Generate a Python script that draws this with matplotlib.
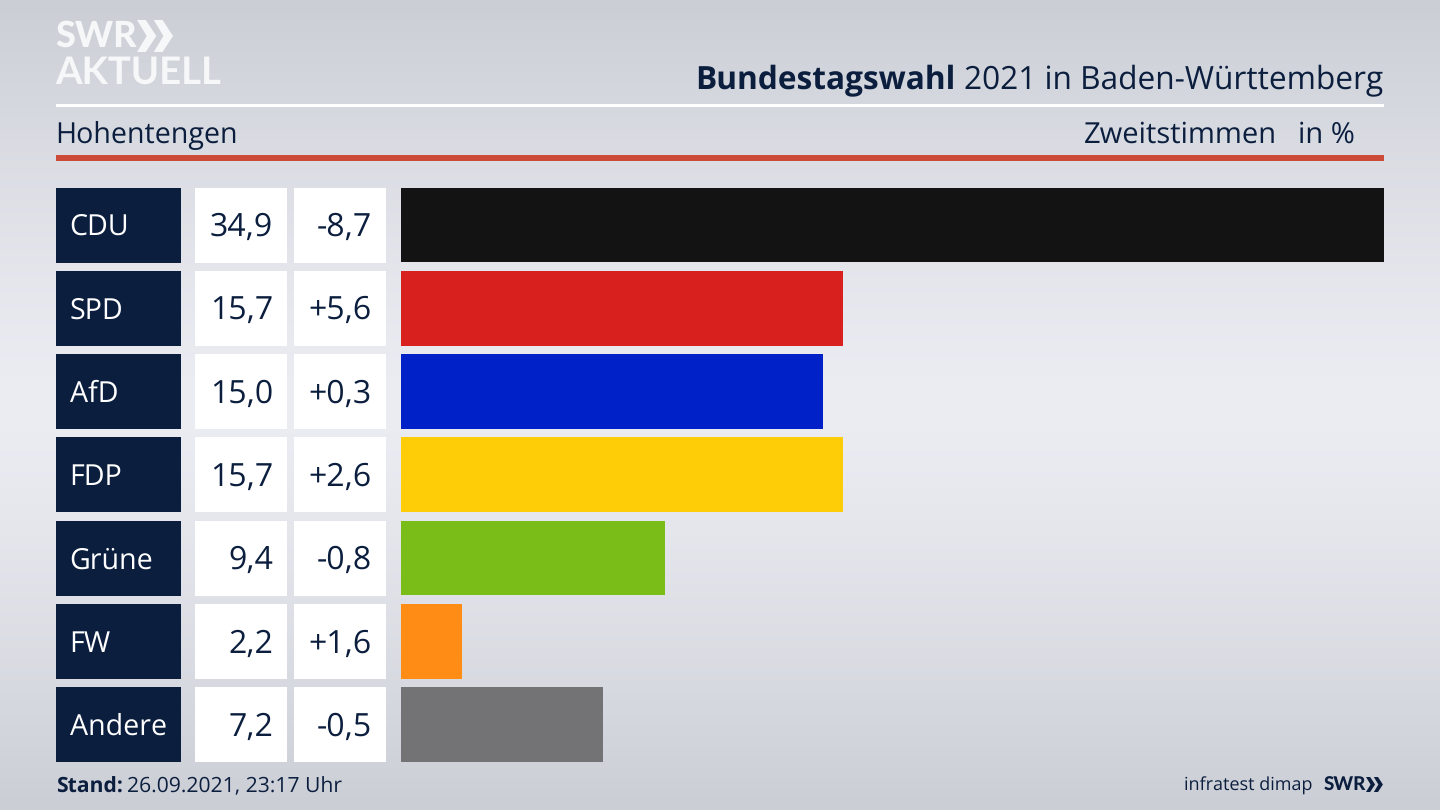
import matplotlib
matplotlib.use('Agg')
import matplotlib.pyplot as plt
import numpy as np
from matplotlib.patches import Polygon, Rectangle

parties = ['CDU', 'SPD', 'AfD', 'FDP', 'Grüne', 'FW', 'Andere']
shares = [34.9, 15.7, 15.0, 15.7, 9.4, 2.2, 7.2]
diffs = ['-8,7', '+5,6', '+0,3', '+2,6', '-0,8', '+1,6', '-0,5']
bar_colors = ['#131313', '#d8201e', '#0021c8', '#ffcc08', '#7abd18', '#ff8c14', '#737375']

NAVY = '#0b1e3e'
FONT = 'Open Sans'
W, H = 1440, 810

plt.rcParams['font.family'] = [FONT, 'DejaVu Sans']
plt.rcParams['text.hinting'] = 'no_hinting'

fig = plt.figure(figsize=(14.4, 8.1), dpi=100)

# whole figure in pixels, for background and header
bg = fig.add_axes([0, 0, 1, 1])
bg.set_xlim(0, W)
bg.set_ylim(H, 0)
bg.axis('off')

# light band in the middle of the grey background
t = np.abs(np.linspace(-1, 1, 256)).reshape(-1, 1)
top = np.array([203, 206, 213]) / 255
mid = np.array([236, 237, 243]) / 255
grad = (mid + (top - mid) * t[..., None] ** 1.3)
bg.imshow(grad, extent=[0, W, H, 0], aspect='auto', zorder=0)


def box(x0, x1, y0, y1, color, z=2):
    bg.add_patch(Rectangle((x0, y0), x1 - x0, y1 - y0, fc=color, ec='none', zorder=z))


def chevrons(x, y, h, color):
    w = h * 0.55
    for dx in (0, w * 0.95):
        pts = [(x + dx, y), (x + dx + w * 0.5, y), (x + dx + w * 1.1, y + h / 2),
               (x + dx + w * 0.5, y + h), (x + dx, y + h), (x + dx + w * 0.55, y + h / 2)]
        bg.add_patch(Polygon(pts, fc=color, ec='none', zorder=3))


# logo
logo_font = ['Lato', 'DejaVu Sans']
bg.text(55, 36, 'SWR', color='#f6f7f8', fontsize=26, fontweight='black', va='center',
        ha='left', zorder=3, family=logo_font)
chevrons(137, 20, 32, '#f6f7f8')
bg.text(55, 73, 'AKTUELL', color='#f6f7f8', fontsize=27.5, fontweight='bold', va='center',
        ha='left', zorder=3, family=logo_font)

# title
title = bg.text(1383, 81, '2021 in Baden-Württemberg', color=NAVY, fontsize=22.8,
                ha='right', va='center', zorder=3)
fig.canvas.draw()
bb = title.get_window_extent()
bg.text(bb.x0 - 8, 81, 'Bundestagswahl', color=NAVY, fontsize=22.8, fontweight='bold',
        ha='right', va='center', zorder=3)

box(56, 1384, 104, 107, 'white')
box(56, 1384, 155, 161, '#cb4b38')

bg.text(55, 135, 'Hohentengen', color=NAVY, fontsize=20.6, ha='left', va='center', zorder=3)
bg.text(1277, 135, 'Zweitstimmen', color=NAVY, fontsize=21, ha='right', va='center', zorder=3)
bg.text(1355, 135, 'in %', color=NAVY, fontsize=21, ha='right', va='center', zorder=3)

# rows
for i, party in enumerate(parties):
    y0 = 187.5 + i * 83.33
    y1 = y0 + 75
    yc = (y0 + y1) / 2
    box(56, 181, y0, y1, NAVY)
    box(195, 287, y0, y1, 'white')
    box(294, 386, y0, y1, 'white')
    bg.text(69.5, yc + 2.5, party, color='white', fontsize=20.6, ha='left', va='center', zorder=3)
    bg.text(273, yc + 2.5, f'{shares[i]:.1f}'.replace('.', ','), color=NAVY, fontsize=23,
            ha='right', va='center', zorder=3)
    bg.text(372, yc + 2.5, diffs[i], color=NAVY, fontsize=23, ha='right', va='center', zorder=3)

# bars
ax = fig.add_axes([400.5 / W, 1 - 762 / H, 983.5 / W, 574.5 / H])
ax.patch.set_alpha(0)
ax.barh(range(len(parties)), shares, height=0.9, color=bar_colors)
ax.set_xlim(0, max(shares))
ax.set_ylim(6.45, -0.45)
ax.axis('off')

# footer
stand = bg.text(56, 787, 'Stand:', color=NAVY, fontsize=15.2, fontweight='bold',
                ha='left', va='center', zorder=3)
fig.canvas.draw()
bb = stand.get_window_extent()
bg.text(bb.x1 + 4, 787, '26.09.2021, 23:17 Uhr', color=NAVY, fontsize=15.2,
        ha='left', va='center', zorder=3)
bg.text(1312, 786, 'infratest dimap', color=NAVY, fontsize=13, ha='right', va='center', zorder=3)
bg.text(1324, 785, 'SWR', color=NAVY, fontsize=13.5, fontweight='black', ha='left', va='center',
        zorder=3, family=logo_font)
chevrons(1366, 777, 15, NAVY)

fig.savefig('out.png', dpi=100)
